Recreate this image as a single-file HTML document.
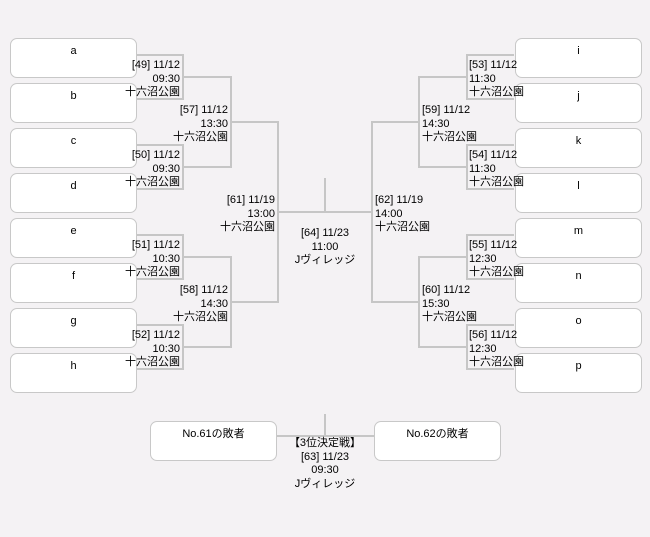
<!DOCTYPE html>
<html><head><meta charset="utf-8"><style>
body{margin:0;background:#f4f2f4;}
#c{position:relative;width:650px;height:537px;overflow:hidden;background:#f4f2f4;font-family:"Liberation Sans","Noto Sans CJK JP",sans-serif;font-size:11px;color:#000;}
.b{position:absolute;width:125px;height:38px;background:#fff;border:1px solid #c8c8c8;border-radius:7px;text-align:center;line-height:24px;}
.t{position:absolute;line-height:13.5px;white-space:nowrap;z-index:2;}
.l{text-align:right;}
svg{position:absolute;left:0;top:0;}
</style></head><body><div id="c">
<svg width="650" height="537"><g stroke="#c6c6c6" stroke-width="2" fill="none">
<path d="M136 55H183V99H136M136 145H183V189H136M136 235H183V279H136M136 325H183V369H136"/>
<path d="M183 77H231V167H183M183 257H231V347H183"/>
<path d="M231 122H278V302H231"/>
<path d="M514 55H467V99H514M514 145H467V189H514M514 235H467V279H514M514 325H467V369H514"/>
<path d="M467 77H419V167H467M467 257H419V347H467"/>
<path d="M419 122H372V302H419"/>
<path d="M278 212H372M325 178V212"/>
<path d="M277 436H374M325 414V436"/>
</g></svg>
<div class="b" style="left:10px;top:38px">a</div>
<div class="b" style="left:10px;top:83px">b</div>
<div class="b" style="left:10px;top:128px">c</div>
<div class="b" style="left:10px;top:173px">d</div>
<div class="b" style="left:10px;top:218px">e</div>
<div class="b" style="left:10px;top:263px">f</div>
<div class="b" style="left:10px;top:308px">g</div>
<div class="b" style="left:10px;top:353px">h</div>
<div class="b" style="left:515px;top:38px">i</div>
<div class="b" style="left:515px;top:83px">j</div>
<div class="b" style="left:515px;top:128px">k</div>
<div class="b" style="left:515px;top:173px">l</div>
<div class="b" style="left:515px;top:218px">m</div>
<div class="b" style="left:515px;top:263px">n</div>
<div class="b" style="left:515px;top:308px">o</div>
<div class="b" style="left:515px;top:353px">p</div>
<div class="b" style="left:150px;top:421px">No.61の敗者</div>
<div class="b" style="left:374px;top:421px">No.62の敗者</div>

<div class="t l" style="right:470px;top:59px">[49] 11/12<br>09:30<br>十六沼公園</div>
<div class="t l" style="right:470px;top:149px">[50] 11/12<br>09:30<br>十六沼公園</div>
<div class="t l" style="right:470px;top:239px">[51] 11/12<br>10:30<br>十六沼公園</div>
<div class="t l" style="right:470px;top:329px">[52] 11/12<br>10:30<br>十六沼公園</div>
<div class="t l" style="right:422px;top:104px">[57] 11/12<br>13:30<br>十六沼公園</div>
<div class="t l" style="right:422px;top:284px">[58] 11/12<br>14:30<br>十六沼公園</div>
<div class="t l" style="right:375px;top:194px">[61] 11/19<br>13:00<br>十六沼公園</div>

<div class="t" style="left:469px;top:59px">[53] 11/12<br>11:30<br>十六沼公園</div>
<div class="t" style="left:469px;top:149px">[54] 11/12<br>11:30<br>十六沼公園</div>
<div class="t" style="left:469px;top:239px">[55] 11/12<br>12:30<br>十六沼公園</div>
<div class="t" style="left:469px;top:329px">[56] 11/12<br>12:30<br>十六沼公園</div>
<div class="t" style="left:422px;top:104px">[59] 11/12<br>14:30<br>十六沼公園</div>
<div class="t" style="left:422px;top:284px">[60] 11/12<br>15:30<br>十六沼公園</div>
<div class="t" style="left:375px;top:194px">[62] 11/19<br>14:00<br>十六沼公園</div>

<div class="t" style="left:265px;width:120px;text-align:center;top:227px">[64] 11/23<br>11:00<br>Jヴィレッジ</div>
<div class="t" style="left:265px;width:120px;text-align:center;top:437px">【3位決定戦】<br>[63] 11/23<br>09:30<br>Jヴィレッジ</div>
</div></body></html>
